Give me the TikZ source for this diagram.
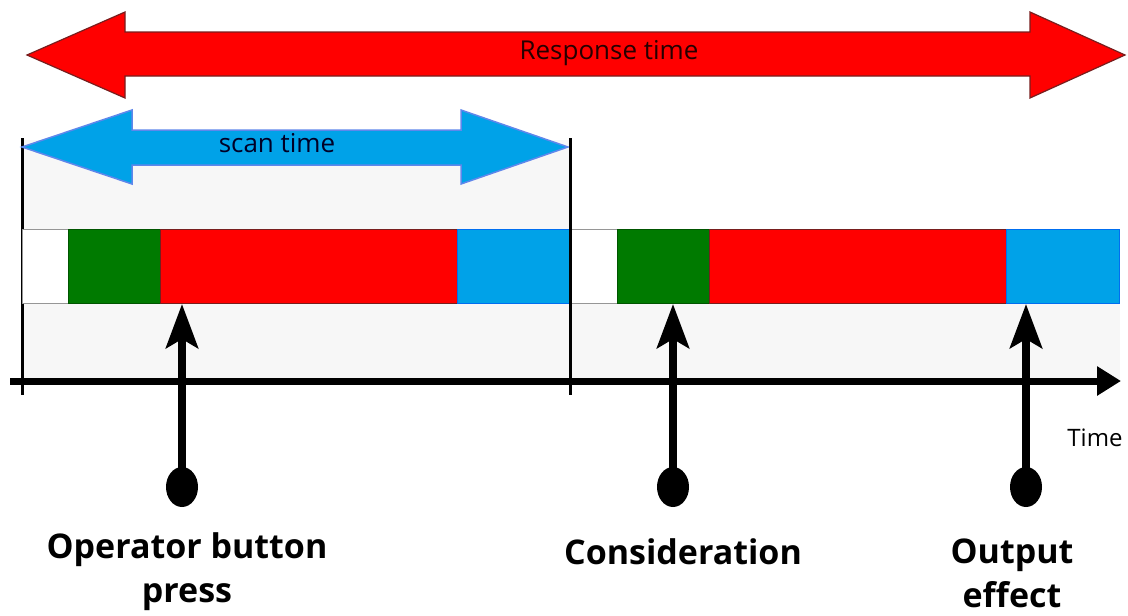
\documentclass[tikz,border=0pt]{standalone}
\usepackage{fontspec}
\setmainfont{Open Sans}
\usetikzlibrary{arrows.meta,shapes.geometric,calc}
\definecolor{bigred}{RGB}{255,0,0}
\definecolor{redline}{RGB}{120,30,30}
\definecolor{scanblue}{RGB}{0,162,232}
\definecolor{scanline}{RGB}{95,135,235}
\definecolor{segblue}{RGB}{0,162,232}
\definecolor{segblueline}{RGB}{0,110,240}
\definecolor{seggreen}{RGB}{0,122,0}
\definecolor{bgray}{RGB}{247,247,247}
\definecolor{boxgray}{RGB}{150,150,150}
\tikzset{
  seg/.style={minimum height=74pt,inner sep=0pt,anchor=south west,line width=0.8pt},
  wseg/.style={seg,fill=white,draw=boxgray},
  gseg/.style={seg,fill=seggreen,draw=seggreen!70!black},
  rseg/.style={seg,fill=bigred,draw=redline},
  bseg/.style={seg,fill=segblue,draw=segblueline},
  dot/.style={ellipse,fill=black,minimum width=32pt,minimum height=40pt,inner sep=0pt},
  uparrow/.style={line width=8pt,-{Stealth[length=44pt,width=32pt,inset=9pt]}},
  lab/.style={font=\fontsize{34}{44}\selectfont\bfseries,align=center,text=black},
  small/.style={font=\fontsize{26}{28}\selectfont},
  cycleline/.style={line width=3pt,black}
}
\begin{document}
\begin{tikzpicture}[x=1pt,y=-1pt]
\useasboundingbox (0,0) rectangle (1128,616);
% background gray areas
\fill[bgray] (22,140) rectangle (570,380);
\fill[bgray] (570,304) rectangle (1120,380);
% Response time arrow
\draw[fill=bigred,draw=redline,line width=1.2pt] (27,55) -- (125,12) -- (125,32) -- (1030,32) -- (1030,12) -- (1125,55) -- (1030,98) -- (1030,76) -- (125,76) -- (125,98) -- cycle;
\node[small,text=black!85!red] (resp) at (609,53) {Response time};
% vertical cycle lines
\coordinate (l1t) at (22,138);
\coordinate (l1b) at (22,395);
\coordinate (l2t) at (570,138);
\coordinate (l2b) at (570,395);
\draw[cycleline] (l1t) -- (l1b);
% scan time arrow
\draw[fill=scanblue,draw=scanline,line width=1.5pt] (22,147) -- (132,110) -- (132,130) -- (461,130) -- (461,110) -- (568,147) -- (461,184) -- (461,165) -- (132,165) -- (132,184) -- cycle;
\node[small,text=black!85!blue] (scan) at (277,143) {scan time};
% bar segments, first cycle
\node[wseg,minimum width=46pt] (w1) at (22,304) {};
\node[gseg,minimum width=92pt] (g1) at (68,304) {};
\node[rseg,minimum width=297pt] (r1) at (160,304) {};
\node[bseg,minimum width=113pt] (b1) at (457,304) {};
% second cycle
\node[wseg,minimum width=47pt] (w2) at (570,304) {};
\node[gseg,minimum width=92pt] (g2) at (617,304) {};
\node[rseg,minimum width=297pt] (r2) at (709,304) {};
\node[bseg,minimum width=113pt] (b2) at (1006,304) {};
\draw[cycleline] (l2t) -- (l2b);
% time axis
\coordinate (ax0) at (10,381);
\coordinate (ax1) at (1121,381);
\draw[line width=7pt,-{Triangle[length=24pt,width=28pt]}] (ax0) -- (ax1);
\node[font=\fontsize{24}{26}\selectfont] (time) at (1095,438) {Time};
% dots and arrows
\node[dot] (d1) at (182,487) {};
\node[dot] (d2) at (673,487) {};
\node[dot] (d3) at (1026,487) {};
\draw[uparrow] (d1.center) -- (d1 |- r1.south);
\draw[uparrow] (d2.center) -- (d2 |- g2.south);
\draw[uparrow] (d3.center) -- (d3 |- b2.south);
% labels
\node[lab,anchor=north] (t1) at (187,529) {Operator button\\press};
\node[lab,anchor=north] (t2) at (683,535) {Consideration};
\node[lab,anchor=north] (t3) at (1012,535) {Output\\effect};
\end{tikzpicture}
\end{document}
